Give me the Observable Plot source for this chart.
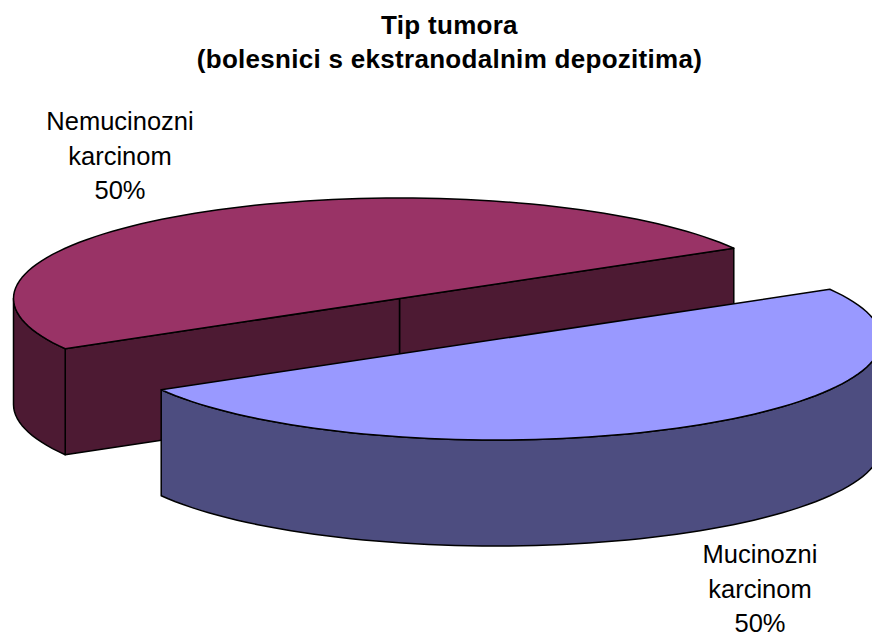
<!DOCTYPE html>
<html>
<head>
<meta charset="utf-8">
<script src="https://cdn.jsdelivr.net/npm/d3@7"></script>
<script src="https://cdn.jsdelivr.net/npm/@observablehq/plot@0.6"></script>
<style>
  html, body { margin: 0; padding: 0; background: #fff; overflow: hidden; }
  #title { height: 75px; box-sizing: border-box; padding: 8px 0 0 27px; width: 872px; text-align: center;
    font: bold 26px/34px "Liberation Sans", Arial, sans-serif; letter-spacing: 0.29px; color: #000; white-space: nowrap; }
  svg { display: block; }
</style>
</head>
<body>
<div id="title">Tip tumora<br>(bolesnici s ekstranodalnim depozitima)</div>
<div id="chart"></div>
<script>
const categories = ["Nemucinozni karcinom", "Mucinozni karcinom"];
const values = [50, 50];
const topColors = ["#993366", "#9999ff"];
const sideColors = ["#4d1a33", "#4d4d80"];

// Projection of the tilted pie
const centers = [[399, 298], [495, 339]];
const radiusX = 386, radiusY = 100.5, depth = 106, firstAngle = 30;
const labelX = [119.5, 759.5], labelY = [153, 586];

const total = d3.sum(values);
let running = firstAngle;
const slices = categories.map((name, i) => {
  const start = running;
  running += values[i] / total * 360;
  return {name, value: values[i], start, end: running, center: centers[i], top: topColors[i], side: sideColors[i]};
});

const onRim = (s, deg, drop = 0) => {
  const t = deg * Math.PI / 180;
  return [s.center[0] + radiusX * Math.cos(t), s.center[1] - radiusY * Math.sin(t) + drop];
};
const arc = (s, a, b, drop = 0) => {
  const n = Math.max(2, Math.ceil(Math.abs(b - a) / 2));
  return d3.range(n + 1).map(k => onRim(s, a + (b - a) * k / n, drop));
};

const faces = [];
const addFace = (id, color, pts) => pts.forEach(([x, y]) => faces.push({id, color, x, y}));

slices.forEach((s, i) => {
  const c = s.center;
  if (i === 0) {
    // Cut walls facing the viewer, meeting at the pie's centre
    const a = onRim(s, s.start), b = onRim(s, s.end);
    addFace("cutA", s.side, [a, c, [c[0], c[1] + depth], [a[0], a[1] + depth]]);
    addFace("cutB", s.side, [c, b, [b[0], b[1] + depth], [c[0], c[1] + depth]]);
  }
  // Outer wall: only the part on the front half of the rim shows
  const a = Math.max(s.start, 180), b = Math.min(s.end, 360);
  addFace("wall" + i, s.side, [...arc(s, a, b), ...arc(s, b, a, depth)]);
  addFace("top" + i, s.top, arc(s, s.start, s.end));
});

const labels = slices.map((s, i) => ({
  text: s.name.split(" ").join("\n") + "\n" + s.value + "%",
  x: labelX[i], y: labelY[i]
}));

const plot = Plot.plot({
  width: 872, height: 558,
  margin: 0,
  x: {domain: [0, 872], range: [0, 872], axis: null},
  y: {domain: [75, 633], range: [0, 558], axis: null},
  style: {background: "#fff"},
  marks: [
    Plot.line(faces, {x: "x", y: "y", z: "id", fill: "color", stroke: "#000", strokeWidth: 1.5, curve: "linear-closed"}),
    Plot.text(labels, {x: "x", y: "y", text: "text", fontSize: 25.5, lineHeight: 1.353, fill: "#000",
      fontFamily: "Liberation Sans, Arial, sans-serif"})
  ]
});
document.getElementById("chart").appendChild(plot);
</script>
</body>
</html>
